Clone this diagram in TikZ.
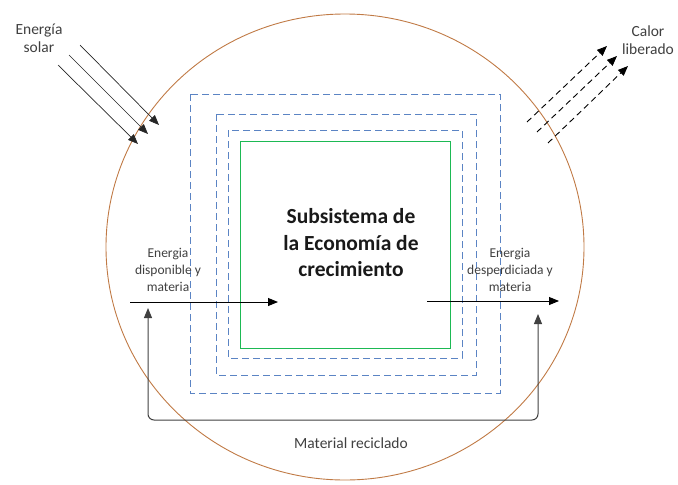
\documentclass[tikz,border=0pt]{standalone}
\usepackage{fontspec}
\setmainfont{Carlito}
\usetikzlibrary{arrows.meta}
\definecolor{circbrown}{HTML}{C07A45}
\definecolor{dashblue}{HTML}{5B84C4}
\definecolor{boxgreen}{HTML}{1DB954}
\definecolor{loopgray}{HTML}{404040}
\begin{document}
\begin{tikzpicture}[x=1pt,y=-1pt,
  tip/.style={-{Triangle[length=10pt,width=8pt]}},
  blubox/.style={draw=dashblue,line width=0.9pt,dash pattern=on 7pt off 4pt},
  lbl/.style={font=\fontsize{13.5}{17}\selectfont,align=center,text=black!75,inner sep=0pt},
  biglbl/.style={font=\fontsize{15.5}{18}\selectfont,align=center,text=black!75,inner sep=0pt},
  sun/.style={tip,draw=black!85,line width=0.7pt},
  heat/.style={tip,draw=black,line width=0.9pt,dash pattern=on 6pt off 4pt}]
\useasboundingbox (0,0) rectangle (678,485);
% outer circle
\draw[circbrown,line width=0.9pt] (345,247) ellipse [x radius=239, y radius=233];
% dashed boxes
\draw[blubox] (190,94) rectangle (500,393);
\draw[blubox] (216,114) rectangle (476,375);
\draw[blubox] (228,130) rectangle (462,358);
\draw[boxgreen,line width=0.9pt] (240,141) rectangle (450,348);
% title
\node[font=\bfseries\fontsize{21.5}{26.5}\selectfont,align=center,inner sep=0pt,text=black!90] (title) at (351,243) {Subsistema de\\la Economía de\\crecimiento};
% solar arrows
\coordinate (s1a) at (80,45);  \coordinate (s1b) at (159,125);
\coordinate (s2a) at (69,55);  \coordinate (s2b) at (148,134);
\coordinate (s3a) at (58,65);  \coordinate (s3b) at (138,144);
\draw[sun] (s1a) -- (s1b);
\draw[sun] (s2a) -- (s2b);
\draw[sun] (s3a) -- (s3b);
\node[biglbl] (solar) at (39,38) {Energía\\solar};
% heat arrows
\coordinate (h1a) at (527,122); \coordinate (h1b) at (607,46);
\coordinate (h2a) at (537,132); \coordinate (h2b) at (617,56);
\coordinate (h3a) at (548,143); \coordinate (h3b) at (628,66);
\draw[heat] (h1a) -- (h1b);
\draw[heat] (h2a) -- (h2b);
\draw[heat] (h3a) -- (h3b);
\node[biglbl] (calor) at (648,40) {Calor\\liberado};
% input / output arrows
\coordinate (inA) at (130,302); \coordinate (inB) at (278,302);
\coordinate (outA) at (427,301); \coordinate (outB) at (559,301);
\draw[tip,line width=0.9pt] (inA) -- (inB);
\draw[tip,line width=0.9pt] (outA) -- (outB);
\node[lbl] (inlbl) at (168,270) {Energia\\disponible y\\materia};
\node[lbl] (outlbl) at (510,270) {Energia\\desperdiciada y\\materia};
% recycle loop
\coordinate (rL) at (148,308); \coordinate (rR) at (538,314);
\draw[{Triangle[length=10pt,width=8pt]}-{Triangle[length=10pt,width=8pt]},draw=loopgray,line width=1pt,rounded corners=6pt] (rL) -- (148,420) -- (538,420) -- (rR);
\node[lbl,font=\fontsize{15.5}{18}\selectfont] (recic) at (351,443) {Material reciclado};
\end{tikzpicture}
\end{document}
